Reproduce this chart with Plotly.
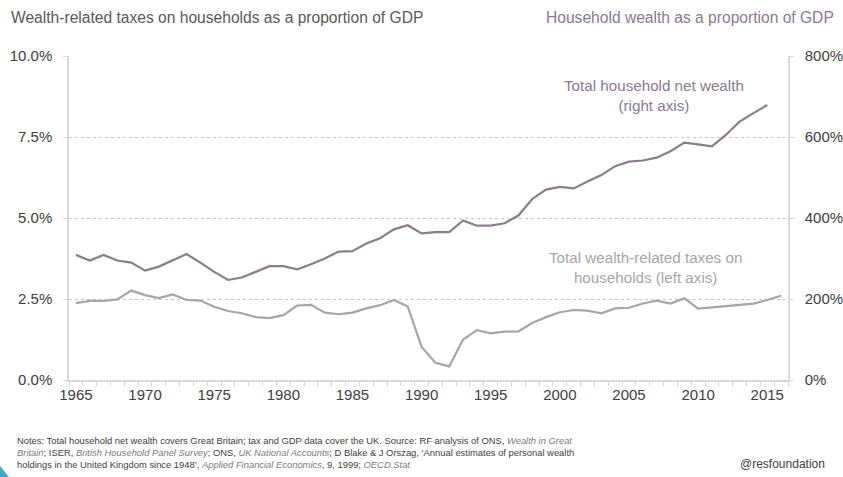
import plotly.graph_objects as go

# ---- data ---------------------------------------------------------------
tax_years = list(range(1965, 2017))
tax_pct_gdp = [
    2.37, 2.44, 2.44, 2.49, 2.76, 2.62, 2.53, 2.64, 2.47, 2.45,
    2.26, 2.13, 2.06, 1.94, 1.91, 2.00, 2.30, 2.32, 2.08, 2.03,
    2.08, 2.21, 2.31, 2.47, 2.27, 1.02, 0.53, 0.42, 1.25, 1.54,
    1.44, 1.49, 1.50, 1.76, 1.94, 2.09, 2.16, 2.14, 2.06, 2.21,
    2.23, 2.36, 2.45, 2.36, 2.52, 2.20, 2.24, 2.28, 2.31, 2.36,
    2.47, 2.60,
]

wealth_years = list(range(1965, 2016))
wealth_pct_gdp = [
    309, 295, 309, 295, 290, 270, 280, 295, 311, 290,
    267, 247, 253, 267, 281, 281, 273, 286, 300, 317,
    318, 337, 350, 372, 382, 362, 365, 365, 394, 381,
    381, 387, 406, 447, 470, 477, 473, 490, 506, 528,
    539, 542, 549, 565, 586, 582, 577, 605, 638, 659,
    679,
]

left_ticks = [0, 2.5, 5.0, 7.5, 10.0]
right_ticks = [0, 200, 400, 600, 800]
year_ticks = list(range(1965, 2016, 5))

# ---- styling --------------------------------------------------------------
W, H = 843, 477
ML, MR, MT, MB = 69, 55, 56, 97
PW, PH = W - ML - MR, H - MT - MB

FONT = "Liberation Sans, Arial, sans-serif"
TEXT = "#404040"
WEALTH_C = "#8a7c8d"
WEALTH_TXT = "#8c7893"
TAX_C = "#a6a6a6"
AXIS_C = "#d9d9d9"
GRID_C = "#c6c6c6"


def px_x(x):
    return (x - ML) / PW


def px_y(y):
    return (H - MB - y) / PH


fig = go.Figure()

fig.add_trace(go.Scatter(
    x=wealth_years, y=wealth_pct_gdp, yaxis="y2", mode="lines",
    line=dict(color=WEALTH_C, width=2.2), name="Total household net wealth",
    hoverinfo="x+y",
))
fig.add_trace(go.Scatter(
    x=tax_years, y=tax_pct_gdp, mode="lines",
    line=dict(color=TAX_C, width=2.2), name="Total wealth-related taxes",
    hoverinfo="x+y",
))

fig.update_layout(
    width=W, height=H,
    margin=dict(l=ML, r=MR, t=MT, b=MB, autoexpand=False),
    paper_bgcolor="white", plot_bgcolor="white",
    showlegend=False,
    font=dict(family=FONT, color=TEXT, size=14),
    xaxis=dict(
        range=[1964.5, 2016.5],
        tickmode="array", tickvals=year_ticks, ticktext=[str(y) for y in year_ticks],
        ticks="", showgrid=False, zeroline=False,
        showline=True, linecolor=AXIS_C, linewidth=1.5,
        tickfont=dict(size=15, color=TEXT),
        minor=dict(tickmode="linear", tick0=1964.5, dtick=1, ticks="outside",
                   ticklen=4, tickcolor=AXIS_C, tickwidth=1, showgrid=False),
    ),
    yaxis=dict(
        range=[0, 10], tickmode="array", tickvals=left_ticks,
        ticktext=[f"{v:.1f}%" for v in left_ticks],
        showgrid=True, gridcolor=GRID_C, griddash="3px,3px", gridwidth=1,
        zeroline=False, showline=True, linecolor=AXIS_C, linewidth=1.5,
        ticks="outside", ticklen=4, tickcolor=AXIS_C,
        ticklabelstandoff=8,
        tickfont=dict(size=15, color=TEXT),
    ),
    yaxis2=dict(
        range=[0, 800], overlaying="y", side="right",
        tickmode="array", tickvals=right_ticks,
        ticktext=[f"{v}%" for v in right_ticks],
        showgrid=False, zeroline=False, showline=True,
        linecolor=AXIS_C, linewidth=1.5,
        ticks="outside", ticklen=4, tickcolor=AXIS_C,
        ticklabelstandoff=8,
        tickfont=dict(size=15, color=TEXT),
    ),
)

notes = (
    "Notes: Total household net wealth covers Great Britain; tax and GDP data cover the UK. "
    "Source: RF analysis of ONS, <span style='color:#7a7a7a'><i>Wealth in Great</i></span><br>"
    "<span style='color:#7a7a7a'><i>Britain</i></span>; ISER, "
    "<span style='color:#7a7a7a'><i>British Household Panel Survey</i></span>; ONS, "
    "<span style='color:#7a7a7a'><i>UK National Accounts</i></span>; D Blake &amp; J Orszag, "
    "\u2018Annual estimates of personal wealth<br>holdings in the United Kingdom since 1948\u2019, "
    "<span style='color:#7a7a7a'><i>Applied Financial Economics</i></span>, 9, 1999; "
    "<span style='color:#7a7a7a'><i>OECD.Stat</i></span>"
)

annotations = [
    dict(text="Wealth-related taxes on households as a proportion of GDP",
         x=px_x(9), y=px_y(18), xanchor="left", yanchor="middle",
         font=dict(size=15.6, color="#595959")),
    dict(text="Household wealth as a proportion of GDP",
         x=px_x(836), y=px_y(18), xanchor="right", yanchor="middle",
         font=dict(size=15.6, color=WEALTH_TXT)),
    dict(text="Total household net wealth<br>(right axis)",
         x=px_x(654), y=px_y(95), xanchor="center", yanchor="middle",
         font=dict(size=15.2, color=WEALTH_TXT)),
    dict(text="Total wealth-related taxes on<br>households (left axis)",
         x=px_x(645), y=px_y(267), xanchor="center", yanchor="middle",
         font=dict(size=15.2, color=TAX_C)),
    dict(text=notes, x=px_x(15), y=px_y(453), xanchor="left", yanchor="middle",
         align="left", font=dict(size=9.4, color=TEXT)),
    dict(text="@resfoundation", x=px_x(827), y=px_y(464),
         xanchor="right", yanchor="middle", font=dict(size=12, color=TEXT)),
]
for a in annotations:
    a.update(xref="paper", yref="paper", showarrow=False)
fig.update_layout(annotations=annotations)

# small corner accent
fig.add_shape(
    type="path", xref="paper", yref="paper",
    path=f"M {px_x(0)} {px_y(466)} L {px_x(9)} {px_y(477)} L {px_x(0)} {px_y(477)} Z",
    fillcolor="#3fa9c4", line=dict(width=0), layer="above",
)

fig.write_html("out.html")
